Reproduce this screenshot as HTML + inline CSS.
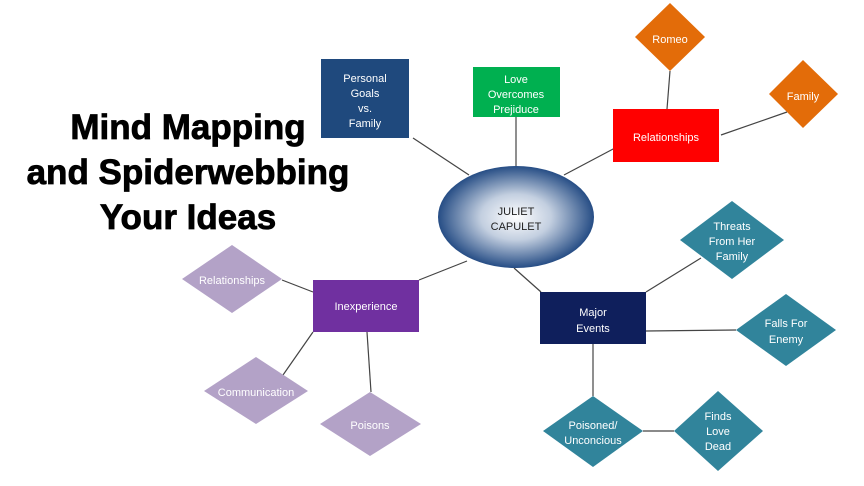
<!DOCTYPE html>
<html><head><meta charset="utf-8"><style>
html,body{margin:0;padding:0;background:#fff;width:864px;height:486px;overflow:hidden}
svg text{font-family:"Liberation Sans",sans-serif}
</style></head><body>
<svg width="864" height="486" viewBox="0 0 864 486" xmlns="http://www.w3.org/2000/svg">
<defs>
<radialGradient id="g" cx="50%" cy="50%" r="50%">
<stop offset="0" stop-color="#ffffff"/>
<stop offset="0.45" stop-color="#c3cfe0"/>
<stop offset="1" stop-color="#264d85"/>
</radialGradient>
</defs>
<g font-weight="bold" font-size="35" fill="#000" stroke="#000" stroke-width="0.8" text-anchor="middle">
<text x="188" y="139">Mind Mapping</text>
<text x="188" y="184">and Spiderwebbing</text>
<text x="188" y="229">Your Ideas</text>
</g>
<g stroke="#444" stroke-width="1.2">
<line x1="413" y1="138" x2="469" y2="175"/>
<line x1="516" y1="117" x2="516" y2="166"/>
<line x1="615" y1="148" x2="564" y2="175"/>
<line x1="670" y1="71" x2="667" y2="109"/>
<line x1="721" y1="135" x2="787" y2="112"/>
<line x1="701" y1="258" x2="646" y2="292"/>
<line x1="646" y1="331" x2="736" y2="330"/>
<line x1="541" y1="292" x2="514" y2="268"/>
<line x1="593" y1="344" x2="593" y2="396"/>
<line x1="643" y1="431" x2="674" y2="431"/>
<line x1="419" y1="280" x2="467" y2="261"/>
<line x1="282" y1="280" x2="313" y2="292"/>
<line x1="313" y1="332" x2="283" y2="375"/>
<line x1="367" y1="332" x2="371" y2="392"/>
</g>
<rect x="321" y="59" width="88" height="79" fill="#1f497d"/>
<rect x="473" y="67" width="87" height="50" fill="#00b050"/>
<rect x="613" y="109" width="106" height="53" fill="#ff0000"/>
<polygon points="670,3 705,37 670,71 635,37" fill="#e36c09"/>
<polygon points="803,60 838,94 803,128 769,94" fill="#e36c09"/>
<ellipse cx="516" cy="217" rx="78" ry="51" fill="url(#g)"/>
<rect x="540" y="292" width="106" height="52" fill="#0f1f5c"/>
<rect x="313" y="280" width="106" height="52" fill="#7030a0"/>
<g fill="#31849b">
<polygon points="732,201 784,240 732,279 680,240"/>
<polygon points="786,294 836,330 786,366 736,330"/>
<polygon points="593,396 643,431 593,467 543,431"/>
<polygon points="718,391 763,431 718,471 674,431"/>
</g>
<g fill="#b3a2c7">
<polygon points="232,245 282,279 232,313 182,279"/>
<polygon points="256,357 308,391 256,424 204,391"/>
<polygon points="370,392 421,424 370,456 320,424"/>
</g>
<g fill="#fff" font-size="11" text-anchor="middle">
<text x="365" y="82">Personal</text><text x="365" y="97">Goals</text><text x="365" y="112">vs.</text><text x="365" y="127">Family</text>
<text x="516" y="83">Love</text><text x="516" y="98">Overcomes</text><text x="516" y="113">Prejiduce</text>
<text x="666" y="141">Relationships</text>
<text x="670" y="43">Romeo</text>
<text x="803" y="100">Family</text>
<text x="732" y="230">Threats</text><text x="732" y="245">From Her</text><text x="732" y="260">Family</text>
<text x="786" y="327">Falls For</text><text x="786" y="343">Enemy</text>
<text x="593" y="316">Major</text><text x="593" y="332">Events</text>
<text x="593" y="429">Poisoned/</text><text x="593" y="444">Unconcious</text>
<text x="718" y="420">Finds</text><text x="718" y="435">Love</text><text x="718" y="450">Dead</text>
<text x="366" y="310">Inexperience</text>
<text x="232" y="284">Relationships</text>
<text x="256" y="396">Communication</text>
<text x="370" y="429">Poisons</text>
</g>
<g fill="#222" font-size="11" text-anchor="middle">
<text x="516" y="215">JULIET</text><text x="516" y="230">CAPULET</text>
</g>
</svg>
</body></html>
